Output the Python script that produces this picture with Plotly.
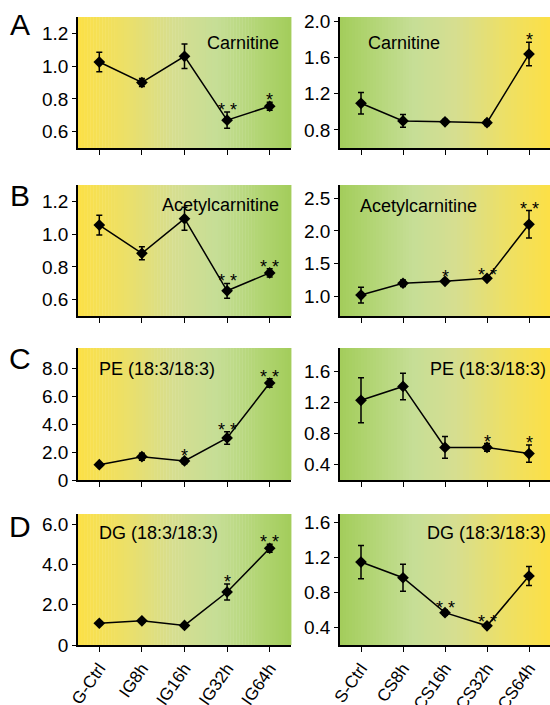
import plotly.graph_objects as go

# ---------------- data ----------------
left_cats = ["G-Ctrl", "IG8h", "IG16h", "IG32h", "IG64h"]
right_cats = ["S-Ctrl", "CS8h", "CS16h", "CS32h", "CS64h"]

carnitine_ig = [1.025, 0.90, 1.06, 0.67, 0.755]
carnitine_ig_err = [0.06, 0.025, 0.075, 0.05, 0.025]
carnitine_ig_sig = ["", "", "", "**", "*"]

carnitine_cs = [1.095, 0.90, 0.89, 0.88, 1.64]
carnitine_cs_err = [0.12, 0.07, 0.025, 0.03, 0.13]
carnitine_cs_sig = ["", "", "", "", "*"]

acetyl_ig = [1.055, 0.883, 1.094, 0.654, 0.763]
acetyl_ig_err = [0.06, 0.04, 0.07, 0.045, 0.025]
acetyl_ig_sig = ["", "", "", "**", "**"]

acetyl_cs = [1.02, 1.20, 1.23, 1.275, 2.10]
acetyl_cs_err = [0.12, 0.05, 0.03, 0.02, 0.21]
acetyl_cs_sig = ["", "", "*", "**", "**"]

pe_ig = [1.1, 1.68, 1.37, 3.03, 6.98]
pe_ig_err = [0.1, 0.25, 0.2, 0.45, 0.3]
pe_ig_sig = ["", "", "*", "**", "**"]

pe_cs = [1.226, 1.405, 0.62, 0.62, 0.54]
pe_cs_err = [0.29, 0.17, 0.14, 0.05, 0.11]
pe_cs_sig = ["", "", "", "*", "*"]

dg_ig = [1.08, 1.2, 0.97, 2.63, 4.8]
dg_ig_err = [0.05, 0.08, 0.05, 0.4, 0.2]
dg_ig_sig = ["", "", "", "*", "**"]

dg_cs = [1.15, 0.97, 0.57, 0.42, 0.99]
dg_cs_err = [0.19, 0.155, 0.03, 0.02, 0.11]
dg_cs_sig = ["", "", "**", "**", ""]

titles = ["Carnitine", "Carnitine", "Acetylcarnitine", "Acetylcarnitine",
          "PE (18:3/18:3)", "PE (18:3/18:3)", "DG (18:3/18:3)", "DG (18:3/18:3)"]
panel_letters = ["A", "B", "C", "D"]

ticks_carn_l = [0.6, 0.8, 1.0, 1.2]
ticks_carn_r = [0.8, 1.2, 1.6, 2.0]
ticks_acet_l = [0.6, 0.8, 1.0, 1.2]
ticks_acet_r = [1.0, 1.5, 2.0, 2.5]
ticks_pe_l = [0, 2, 4, 6, 8]
ticklabels_pe_l = ["0", "2.0", "4.0", "6.0", "8.0"]
ticks_pe_r = [0.4, 0.8, 1.2, 1.6]
ticks_dg_l = [0, 2, 4, 6]
ticklabels_dg_l = ["0", "2.0", "4.0", "6.0"]
ticks_dg_r = [0.4, 0.8, 1.2, 1.6]

# ---------------- layout geometry ----------------
W, H = 550, 705
FONT = "Arial, Liberation Sans, sans-serif"
xdom_left = [78 / W, 291 / W]
xdom_right = [340 / W, 1.0]
rows_px = [(17, 148), (185, 316), (348, 480), (514, 645)]
ydoms = [[1 - b / H, 1 - t / H] for t, b in rows_px]

panels = [
    (left_cats, carnitine_ig, carnitine_ig_err, carnitine_ig_sig, [0.5, 1.3], ticks_carn_l, [f"{v:.1f}" for v in ticks_carn_l], "L", (0.955, 0.80, "right")),
    (right_cats, carnitine_cs, carnitine_cs_err, carnitine_cs_sig, [0.6, 2.05], ticks_carn_r, [f"{v:.1f}" for v in ticks_carn_r], "R", (0.124, 0.80, "left")),
    (left_cats, acetyl_ig, acetyl_ig_err, acetyl_ig_sig, [0.5, 1.3], ticks_acet_l, [f"{v:.1f}" for v in ticks_acet_l], "L", (0.955, 0.845, "right")),
    (right_cats, acetyl_cs, acetyl_cs_err, acetyl_cs_sig, [0.7, 2.7], ticks_acet_r, [f"{v:.1f}" for v in ticks_acet_r], "R", (0.086, 0.842, "left")),
    (left_cats, pe_ig, pe_ig_err, pe_ig_sig, [0, 9.5], ticks_pe_l, ticklabels_pe_l, "L", (0.089, 0.84, "left")),
    (right_cats, pe_cs, pe_cs_err, pe_cs_sig, [0.2, 1.9], ticks_pe_r, [f"{v:.1f}" for v in ticks_pe_r], "R", (0.99, 0.84, "right")),
    (left_cats, dg_ig, dg_ig_err, dg_ig_sig, [0, 6.5], ticks_dg_l, ticklabels_dg_l, "L", (0.089, 0.855, "left")),
    (right_cats, dg_cs, dg_cs_err, dg_cs_sig, [0.2, 1.7], ticks_dg_r, [f"{v:.1f}" for v in ticks_dg_r], "R", (0.99, 0.855, "right")),
]

grad_stops = [(0.0, (252, 224, 70)), (0.2, (238, 224, 100)), (0.45, (214, 222, 144)),
              (0.65, (198, 222, 150)), (0.85, (178, 213, 116)), (1.0, (163, 205, 91))]


def grad_color(t):
    for (p0, c0), (p1, c1) in zip(grad_stops[:-1], grad_stops[1:]):
        if p0 <= t <= p1:
            f = (t - p0) / (p1 - p0) if p1 > p0 else 0
            c = [round(a + (b - a) * f) for a, b in zip(c0, c1)]
            return f"rgb({c[0]},{c[1]},{c[2]})"
    c = grad_stops[-1][1]
    return f"rgb({c[0]},{c[1]},{c[2]})"


fig = go.Figure()
shapes = []
annotations = []
layout_axes = {}
NSTRIP = 70

for i, (cats, vals, err, sig, yr, tv, tt, side, tpos) in enumerate(panels):
    n = i + 1
    xa = "x" if n == 1 else f"x{n}"
    ya = "y" if n == 1 else f"y{n}"
    row = i // 2
    xdom = xdom_left if side == "L" else xdom_right

    fig.add_trace(go.Scatter(
        x=cats, y=vals, xaxis=xa, yaxis=ya, mode="lines+markers",
        line=dict(color="black", width=1.5),
        marker=dict(symbol="diamond", size=9, color="black"),
        error_y=dict(type="data", array=err, visible=True, color="black", thickness=1.5, width=3),
        showlegend=False, cliponaxis=False,
    ))

    for k in range(NSTRIP):
        t = (k + 0.5) / NSTRIP
        tc = t if side == "L" else 1 - t
        shapes.append(dict(type="rect", xref=f"{xa} domain", yref=f"{ya} domain",
                           x0=k / NSTRIP, x1=(k + 1) / NSTRIP + 0.002, y0=0, y1=1,
                           fillcolor=grad_color(tc), line=dict(width=0), layer="below"))

    for c, v, e, s in zip(cats, vals, err, sig):
        if s:
            annotations.append(dict(x=c, y=v + e, xref=xa, yref=ya, text=s.replace("**", "* *"),
                                    showarrow=False, yanchor="bottom", yshift=-10,
                                    font=dict(family=FONT, size=18, color="black")))

    annotations.append(dict(x=tpos[0], y=tpos[1], xref=f"{xa} domain", yref=f"{ya} domain",
                            text=titles[i], showarrow=False, xanchor=tpos[2], yanchor="middle",
                            font=dict(family=FONT, size=18, color="black")))

    layout_axes[f"xaxis{n}" if n > 1 else "xaxis"] = dict(
        domain=xdom, anchor=ya, type="category", range=[-0.5, 4.5],
        showline=True, linecolor="black", linewidth=1.5,
        ticks="outside", ticklen=5, tickwidth=1.2, tickcolor="black",
        showticklabels=(row == 3), tickangle=-55,
        tickfont=dict(family=FONT, size=17, color="black"),
        showgrid=False, zeroline=False, fixedrange=True, automargin=False,
    )
    layout_axes[f"yaxis{n}" if n > 1 else "yaxis"] = dict(
        domain=ydoms[row], anchor=xa, range=yr,
        tickvals=tv, ticktext=tt,
        showline=True, linecolor="black", linewidth=1.5,
        ticks="outside", ticklen=4, tickwidth=1.2, tickcolor="black",
        tickfont=dict(family=FONT, size=19, color="black"),
        showgrid=False, zeroline=False, fixedrange=True, automargin=False,
    )

letter_y = [24, 195, 359, 526]
for L, yp in zip(panel_letters, letter_y):
    annotations.append(dict(x=20 / W, y=1 - yp / H, xref="paper", yref="paper", text=L,
                            showarrow=False, xanchor="center", yanchor="middle",
                            font=dict(family=FONT, size=30, color="black")))

fig.update_layout(
    width=W, height=H, margin=dict(l=0, r=0, t=0, b=0),
    paper_bgcolor="white", plot_bgcolor="rgba(0,0,0,0)",
    shapes=shapes, annotations=annotations, showlegend=False,
    **layout_axes,
)

fig.write_html("out.html", config={"displayModeBar": False},
               post_script="document.body.style.margin='0';document.body.style.overflow='hidden';")
